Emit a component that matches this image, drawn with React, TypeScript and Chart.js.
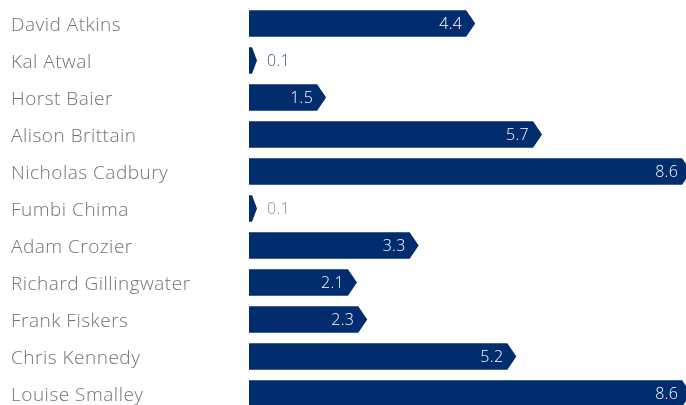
import React, { useEffect, useRef } from "react";
import { Chart, registerables } from "chart.js";

Chart.register(...registerables);

const names = [
  "David Atkins",
  "Kal Atwal",
  "Horst Baier",
  "Alison Brittain",
  "Nicholas Cadbury",
  "Fumbi Chima",
  "Adam Crozier",
  "Richard Gillingwater",
  "Frank Fiskers",
  "Chris Kennedy",
  "Louise Smalley",
];
const values = [4.4, 0.1, 1.5, 5.7, 8.6, 0.1, 3.3, 2.1, 2.3, 5.2, 8.6];
const outsideLabelColors = ["#3b4f8c", "#3b4f8c", "#3b4f8c", "#3b4f8c", "#3b4f8c", "#8a8a8a", "#3b4f8c", "#3b4f8c", "#3b4f8c", "#3b4f8c", "#3b4f8c"];

const BAR_COLOR = "#012c6e";
const FONT = "'Open Sans', Lato, sans-serif";

const spacingPlugin = {
  id: "letterSpacing",
  beforeDraw(chart: any) {
    chart.ctx.letterSpacing = "0.5px";
  },
};

const chevronPlugin = {
  id: "chevronBars",
  beforeDatasetDraw() {
    return false;
  },
  afterDatasetsDraw(chart: any) {
    const ctx = chart.ctx;
    const meta = chart.getDatasetMeta(0);
    ctx.save();
    meta.data.forEach((el: any, i: number) => {
      const { x, y, base, height } = el.getProps(["x", "y", "base", "height"], true);
      const top = y - height / 2;
      const bottom = y + height / 2;
      const tip = Math.max(x, base + 8);
      const shoulder = Math.max(base + 3, tip - 9);
      ctx.beginPath();
      ctx.moveTo(base, top);
      ctx.lineTo(shoulder, top);
      ctx.lineTo(tip, y);
      ctx.lineTo(shoulder, bottom);
      ctx.lineTo(base, bottom);
      ctx.closePath();
      ctx.fillStyle = BAR_COLOR;
      ctx.fill();

      const v = values[i];
      const label = v.toFixed(1);
      ctx.letterSpacing = "0.3px";
      ctx.font = `300 16px ${FONT}`;
      ctx.textBaseline = "middle";
      if (x - base > 30) {
        ctx.fillStyle = "#ffffff";
        ctx.textAlign = "right";
        ctx.fillText(label, x - 13, y + 1);
      } else {
        ctx.fillStyle = outsideLabelColors[i];
        ctx.textAlign = "left";
        ctx.fillText(label, tip + 10, y + 1);
      }
    });
    ctx.restore();
  },
};

export default function App() {
  const ref = useRef<HTMLCanvasElement | null>(null);

  useEffect(() => {
    document.body.style.margin = "0";
    const chart = new Chart(ref.current as HTMLCanvasElement, {
      type: "bar",
      data: {
        labels: names,
        datasets: [
          {
            data: values,
            backgroundColor: BAR_COLOR,
            borderWidth: 0,
            barPercentage: 0.72,
            categoryPercentage: 1,
          },
        ],
      },
      options: {
        indexAxis: "y",
        responsive: false,
        animation: false,
        layout: { padding: { top: 5, left: 11, right: 0, bottom: 0 } },
        plugins: {
          legend: { display: false },
          tooltip: { enabled: false },
        },
        scales: {
          x: {
            display: false,
            min: 0,
            max: 8.5,
          },
          y: {
            grid: { display: false },
            border: { display: false },
            ticks: {
              crossAlign: "far",
              padding: 0,
              labelOffset: 2,
              color: "#737373",
              font: { family: FONT, size: 19, weight: "300" },
            },
            afterFit(scale: any) {
              scale.width = 238;
              scale.paddingTop = 0;
              scale.paddingBottom = 0;
            },
          },
        },
      },
      plugins: [spacingPlugin, chevronPlugin],
    } as any);
    return () => chart.destroy();
  }, []);

  return (
    <div style={{ width: 686, height: 405, overflow: "hidden" }}>
      <canvas ref={ref} width={686} height={412} style={{ display: "block" }} />
    </div>
  );
}
